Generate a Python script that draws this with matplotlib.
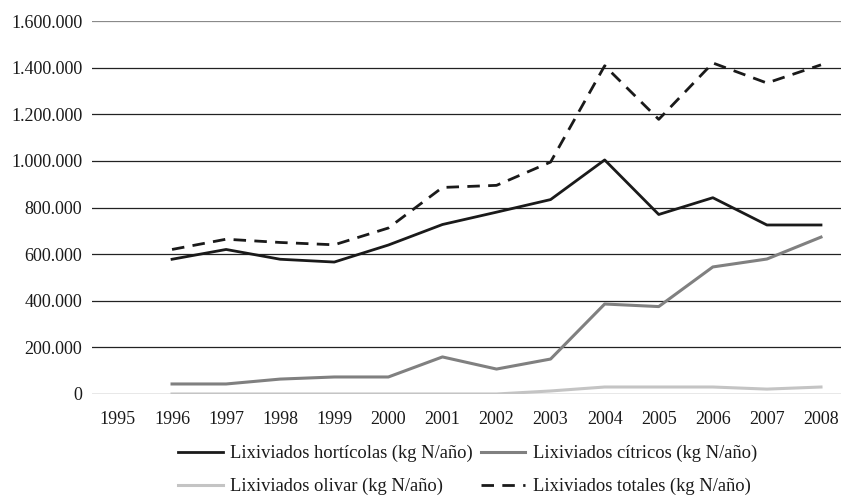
import matplotlib
matplotlib.use("Agg")
import matplotlib.pyplot as plt
from matplotlib.ticker import FuncFormatter

years = list(range(1995, 2009))
data_years = list(range(1996, 2009))
horticolas = [578000, 620000, 578000, 566000, 639000, 727000, 780000, 834000, 1004000, 770000, 842000, 725000, 725000]
citricos = [43000, 43000, 64000, 73000, 73000, 159000, 107000, 150000, 386000, 375000, 545000, 579000, 673000]
olivar = [0, 0, 0, 0, 0, 0, 0, 13000, 30000, 30000, 30000, 21000, 30000]
totales = [620000, 664000, 650000, 640000, 712000, 886000, 895000, 995000, 1408000, 1178000, 1420000, 1334000, 1412000]
labels = ["Lixiviados hortícolas (kg N/año)", "Lixiviados cítricos (kg N/año)",
          "Lixiviados olivar (kg N/año)", "Lixiviados totales (kg N/año)"]

plt.rcParams['font.family'] = ['Liberation Serif', 'DejaVu Serif']

fig = plt.figure(figsize=(8.41, 4.99), dpi=100)
ax = fig.add_axes([92/841, 105/499, 1 - 92/841, (394-21)/499])

ax.set_ylim(0, 1600000)
ax.set_xlim(1994.52, 2008.37)
yt = list(range(0, 1600001, 200000))
ax.set_yticks(yt)
for v in yt[1:]:
    ax.axhline(v, color='#8a8a8a' if v == 1600000 else '#222222', lw=0.9, zorder=1)
ax.axhline(0, color='#8a8a8a', lw=1.0, zorder=1)

ax.plot(data_years, olivar, color='#c4c4c4', lw=2.2, zorder=3, label=labels[2])
ax.plot(data_years, citricos, color='#808080', lw=2.2, zorder=3, label=labels[1])
ax.plot(data_years, horticolas, color='#1a1a1a', lw=2.0, zorder=4, label=labels[0])
ax.plot(data_years, totales, color='#1a1a1a', lw=2.0, zorder=4, dashes=(4.5, 3), label=labels[3])

ax.set_xticks(years)
ax.set_xticklabels([str(y) for y in years])
ax.yaxis.set_major_formatter(FuncFormatter(lambda v, p: f"{int(v):,}".replace(",", ".")))
ax.tick_params(axis='both', length=0, labelsize=13, colors='#1a1a1a')
ax.tick_params(axis='y', pad=7)
ax.tick_params(axis='x', pad=12)
for s in ax.spines.values():
    s.set_visible(False)

h, l = ax.get_legend_handles_labels()
hd = {lab: hh for hh, lab in zip(h, l)}
handles = [hd[labels[0]], hd[labels[2]], hd[labels[1]], hd[labels[3]]]
leglabels = [labels[0], labels[2], labels[1], labels[3]]
fig.legend(handles, leglabels, ncol=2, loc='upper left', bbox_to_anchor=(178/841, 1 - 445/499),
           frameon=False, fontsize=13.3, handlelength=2.43, handletextpad=0.38,
           columnspacing=0.43, labelspacing=0.85, borderaxespad=0, borderpad=0,
           labelcolor='#1a1a1a')

fig.savefig("out.png", dpi=100)
